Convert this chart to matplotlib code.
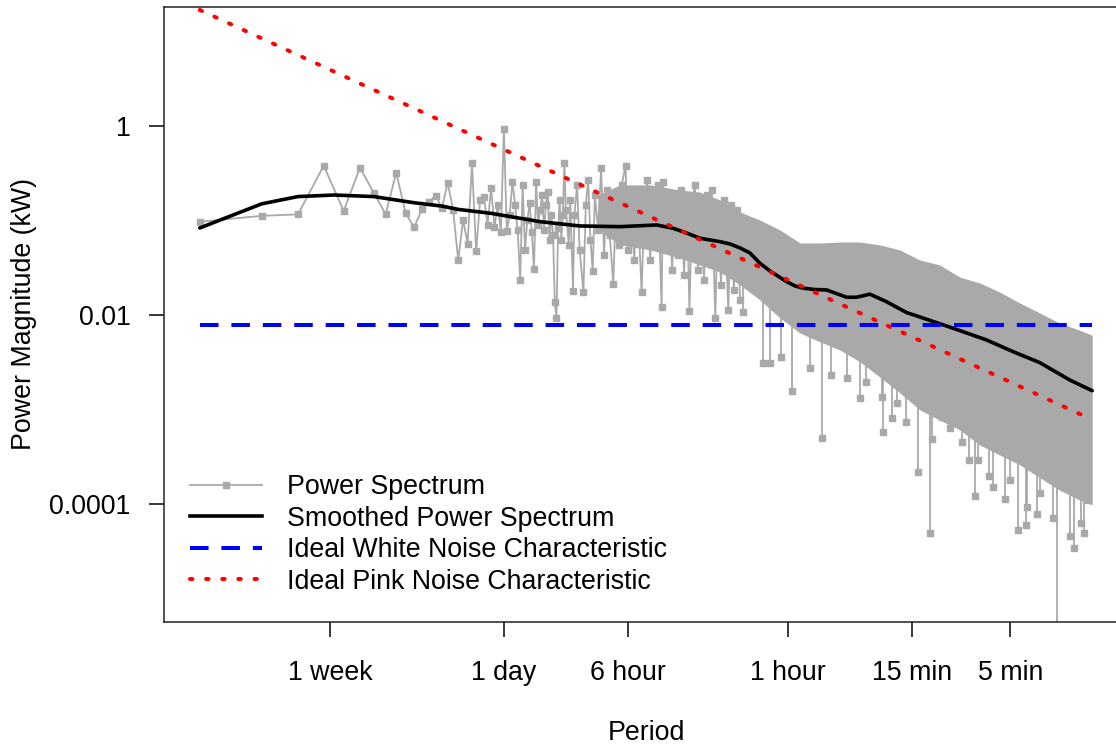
import numpy as np
import matplotlib
matplotlib.use("Agg")
import matplotlib.pyplot as plt
from matplotlib.lines import Line2D

plt.rcParams['font.family'] = ['Liberation Sans', 'DejaVu Sans']

# 30-day record sampled each minute: harmonic k has frequency k / 720 cycles per hour
RECORD_HOURS = 720.0

# ---- raw power spectrum: individual harmonics (low / mid frequency part) ----
spectrum_harmonic = [
    1, 2, 3, 4, 5, 6, 7, 8, 9, 10,
    11, 12, 13, 14, 15, 16, 17, 18, 19, 20,
    21, 22, 23, 24, 25, 26, 27, 28, 29, 30,
    31, 32, 33, 34, 35, 36, 37, 38, 39, 40,
    41, 42, 43, 44, 45, 46, 47, 48, 49, 50,
    51, 52, 53, 54, 55, 56, 57, 58, 59, 60,
    62, 63, 65, 66, 68, 70, 73, 75, 77, 79,
    81, 83, 86, 89, 92, 95, 98, 102, 105, 109,
    112, 117, 120, 124, 129, 133, 140, 144, 149, 154,
    159, 164, 168, 175, 178, 184, 190, 197, 203, 210,
    217, 225, 232, 239, 246, 254, 263, 272, 281, 291,
    301, 307, 319, 329, 340, 352, 369, 380, 393, 407, 421]
spectrum_power = [
    0.097, 0.112, 0.116, 0.380, 0.126, 0.362, 0.197, 0.116, 0.321, 0.119,
    0.085, 0.131, 0.158, 0.183, 0.135, 0.251, 0.129, 0.038, 0.101, 0.057,
    0.403, 0.047, 0.165, 0.177, 0.090, 0.221, 0.085, 0.146, 0.076, 0.93,
    0.077, 0.114, 0.257, 0.146, 0.079, 0.0234, 0.238, 0.0488, 0.101, 0.152,
    0.076, 0.0305, 0.257, 0.090, 0.129, 0.186, 0.079, 0.146, 0.202, 0.062,
    0.114, 0.070, 0.0138, 0.0092, 0.083, 0.165, 0.062, 0.114, 0.409, 0.129,
    0.0551, 0.165, 0.0181, 0.114, 0.238, 0.0488, 0.0176, 0.146, 0.268, 0.0622,
    0.0294, 0.186, 0.0793, 0.357, 0.0432, 0.210, 0.0703, 0.0211, 0.165, 0.0551,
    0.238, 0.377, 0.0488, 0.165, 0.0382, 0.210, 0.0174, 0.129, 0.268, 0.0382,
    0.165, 0.0622, 0.238, 0.0121, 0.257, 0.0488, 0.165, 0.0299, 0.186, 0.0432,
    0.210, 0.0265, 0.165, 0.0111, 0.146, 0.238, 0.0299, 0.165, 0.0234, 0.186,
    0.0382, 0.210, 0.0092, 0.146, 0.0208, 0.165, 0.0113, 0.146, 0.0184, 0.129, 0.0144]

# ---- dense high-frequency part: extent of the bulk of the points ----
band_harmonic = [86, 110, 154, 215, 269, 336, 421, 526, 658, 822,
                 1028, 1286, 1607, 2010, 2513, 3142, 3929, 4912, 6142, 7679,
                 9602, 12005, 15011, 18769, 21600]
band_upper = [0.186, 0.238, 0.238, 0.210, 0.200, 0.165, 0.123, 0.101, 0.0793, 0.0578,
              0.0578, 0.0592, 0.0592, 0.0551, 0.0488, 0.0382, 0.0338, 0.0252, 0.0218, 0.0175,
              0.0134, 0.0105, 0.0082, 0.0069, 0.0061]
band_lower = [0.080, 0.0551, 0.0488, 0.0401, 0.0338, 0.0285, 0.0208, 0.0144, 0.0093, 0.00645,
              0.0052, 0.00426, 0.0032, 0.0022, 0.0015, 0.00099, 0.00077, 0.00061, 0.00042, 0.00033,
              0.00026, 0.00019, 0.00014, 0.00011, 0.0000976]

# isolated low values below the bulk: harmonic, value, level of the surrounding bulk
dip_harmonic = [437, 545, 588, 665, 750, 920, 1048, 1163, 1386, 1608,
                1714, 2070, 2087, 2291, 2424, 2689, 3065, 3505, 3595, 4009,
                4398, 5045, 5457, 5796, 6035, 6823, 7088, 8128, 8596, 9404,
                10285, 10433, 11714, 12027, 13857, 14588, 16812, 17580, 19163, 19724, 20560]
dip_power = [0.0108, 0.0031, 0.0031, 0.00362, 0.00158, 0.00273, 0.000496, 0.00232, 0.00214, 0.00131,
             0.00197, 0.00137, 0.000574, 0.000807, 0.00116, 0.000743, 0.00022, 0.0000493, 0.000484, 0.000839,
             0.000632, 0.000456, 0.000292, 0.000122, 0.000292, 0.000199, 0.000152, 0.000112, 0.000179, 0.0000531,
             0.00006, 0.0000936, 0.0000784, 0.00013, 0.0000706, 0.000002, 0.0000458, 0.0000345, 0.0000625,
             0.0000497, 0.00011]
dip_base = [0.0338, 0.0234, 0.0234, 0.0184, 0.0128, 0.0100, 0.00885, 0.00783, 0.00693, 0.00544,
            0.00544, 0.00378, 0.00378, 0.00318, 0.00318, 0.00249, 0.00195, 0.00161, 0.00161, 0.00132,
            0.00126, 0.000988, 0.000988, 0.000988, 0.000988, 0.000774, 0.000774, 0.000607, 0.000607, 0.000475,
            0.000475, 0.000475, 0.000373, 0.000373, 0.000292, 0.000292, 0.000229, 0.000229, 0.000229,
            0.000229, 0.000229]

# ---- smoothed spectrum ----
smooth_harmonic = [1, 2, 3, 4.5, 7, 11, 15, 18, 26, 45,
                   70, 110, 166, 199, 231, 269, 336, 376, 421, 470,
                   526, 588, 709, 778, 853, 972, 1108, 1386, 1549, 1798,
                   2168, 2711, 3389, 4563, 6627, 8916, 12027, 16812, 21600]
smooth_power = [0.0833, 0.150, 0.179, 0.186, 0.179, 0.154, 0.142, 0.131, 0.119, 0.0971,
                0.0875, 0.0860, 0.0896, 0.0827, 0.0738, 0.0648, 0.0597, 0.0564, 0.0512, 0.0453,
                0.0352, 0.0292, 0.0225, 0.0203, 0.0192, 0.0186, 0.0184, 0.0154, 0.0154, 0.0166,
                0.0138, 0.0106, 0.00901, 0.00723, 0.00544, 0.00409, 0.00313, 0.00205, 0.00158]

# ---- reference characteristics ----
white_harmonic = [1, 21600]
white_power = [0.0078, 0.0078]
pink_harmonic = [1, 21600]
pink_power = [16.9, 0.00078]

# ---- axis ticks ----
tick_period_hours = [168, 24, 6, 1, 0.25, 1.0 / 12.0]
tick_labels = ["1 week", "1 day", "6 hour", "1 hour", "15 min", "5 min"]
ytick_values = [1, 0.01, 0.0001]
ytick_labels = ["1", "0.01", "0.0001"]

legend_labels = ["Power Spectrum", "Smoothed Power Spectrum",
                 "Ideal White Noise Characteristic", "Ideal Pink Noise Characteristic"]

GRAY = "#A9A9A9"
FS = 19.3
MS = 4.8


def freq(h):
    return np.asarray(h, dtype=float) / RECORD_HOURS


fig = plt.figure(figsize=(11.16, 7.44), dpi=100)
ax = fig.add_axes([164 / 1116, 122 / 744, 964 / 1116, 615 / 744])
ax.set_xscale("log")
ax.set_yscale("log")

# raw spectrum
ax.fill_between(freq(band_harmonic), band_lower, band_upper, color=GRAY, lw=0, zorder=2)
ax.vlines(freq(dip_harmonic), dip_power, dip_base, color=GRAY, lw=1.3, zorder=2)
ax.plot(freq(dip_harmonic), dip_power, ls="none", marker="s", ms=MS, color=GRAY, zorder=2)
ax.plot(freq(spectrum_harmonic), spectrum_power, color=GRAY, lw=1.3, marker="s", ms=MS, zorder=2)

# smoothed
ax.plot(freq(smooth_harmonic), smooth_power, color="black", lw=2.6, zorder=3,
        solid_joinstyle="round", solid_capstyle="round")

# white & pink noise
ax.plot(freq(white_harmonic), white_power, color="#0000FF", lw=2.9, zorder=4,
        dashes=(4.6, 3.2), dash_capstyle="butt")
ax.plot(freq(pink_harmonic), pink_power, color="#FF0000", lw=2.9, zorder=5,
        dashes=(0.6, 3.4), dash_capstyle="round")

ax.set_xlim(10 ** -3.031, 10 ** 1.651)
ax.set_ylim(10 ** -5.249, 10 ** 1.259)

ax.set_xticks([1.0 / p for p in tick_period_hours])
ax.set_xticklabels(tick_labels)
ax.set_yticks(ytick_values)
ax.set_yticklabels(ytick_labels)
ax.minorticks_off()
ax.tick_params(axis="both", which="major", length=11, width=1.1, direction="out",
               labelsize=FS, colors="black")
ax.tick_params(axis="y", pad=13)
ax.tick_params(axis="x", pad=16.5)
for s in ax.spines.values():
    s.set_linewidth(1.1)
    s.set_color("#222222")

ax.set_xlabel("Period", fontsize=FS, labelpad=24.5)
ax.set_ylabel("Power Magnitude (kW)", fontsize=FS, labelpad=9)

handles = [
    Line2D([], [], color=GRAY, lw=1.3, marker="s", ms=MS),
    Line2D([], [], color="black", lw=2.6),
    Line2D([], [], color="#0000FF", lw=2.9, dashes=(4.6, 3.2), dash_capstyle="butt"),
    Line2D([], [], color="#FF0000", lw=2.9, dashes=(0.6, 3.4), dash_capstyle="round"),
]
ax.legend(handles, legend_labels, loc="upper left", bbox_to_anchor=(0.027, 0.2405),
          frameon=False, fontsize=FS, handlelength=2.7, handletextpad=0.9,
          labelspacing=0.205, borderpad=0, borderaxespad=0, numpoints=1)

fig.savefig("out.png", dpi=100)
